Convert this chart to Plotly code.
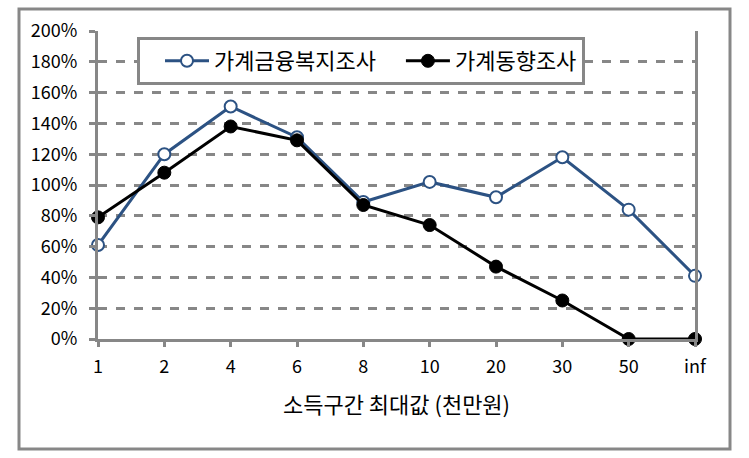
import plotly.graph_objects as go

categories = ["1", "2", "4", "6", "8", "10", "20", "30", "50", "inf"]
finance_welfare = [61, 120, 151, 131, 89, 102, 92, 118, 84, 41]
household_trend = [79, 108, 138, 129, 87, 74, 47, 25, 0, 0]
y_ticks = [0, 20, 40, 60, 80, 100, 120, 140, 160, 180, 200]
y_tick_labels = [f"{v}%" for v in y_ticks]
series_names = ["가계금융복지조사", "가계동향조사"]

xs = list(range(len(categories)))
GRAY = "#878787"
BLUE = "#2C5283"
FONT = "Noto Sans CJK KR"

fig = go.Figure()
fig.add_trace(go.Scatter(
    x=xs, y=finance_welfare, name=series_names[0], mode="lines+markers",
    line=dict(color=BLUE, width=3),
    marker=dict(symbol="circle", size=12, color="white", line=dict(color=BLUE, width=2)),
    cliponaxis=False,
))
fig.add_trace(go.Scatter(
    x=xs, y=household_trend, name=series_names[1], mode="lines+markers",
    line=dict(color="black", width=3),
    marker=dict(symbol="circle", size=13, color="black", line=dict(color="black", width=1)),
    cliponaxis=False,
))

W, H = 749, 458
L, R, T, B = 98, 695, 31, 339
fig.update_layout(
    width=W, height=H,
    margin=dict(l=L, r=W - R, t=T, b=H - B),
    paper_bgcolor="white", plot_bgcolor="white",
    font=dict(family=FONT, size=18, color="black"),
    showlegend=True,
    legend=dict(
        orientation="h", x=(137 - L) / (R - L), y=(B - 37) / (B - T),
        xanchor="left", yanchor="top",
        bgcolor="white", bordercolor=GRAY, borderwidth=3,
        font=dict(family=FONT, size=22, color="black"),
        itemwidth=44, indentation=20,
    ),
    xaxis=dict(
        range=[0, len(categories) - 1], tickmode="array", tickvals=xs, ticktext=categories,
        showgrid=False, zeroline=False, showline=True, linecolor=GRAY, linewidth=3,
        ticks="outside", ticklen=5, tickwidth=3, tickcolor=GRAY,
        tickfont=dict(family=FONT, size=18), ticklabelstandoff=4,
        title=dict(text="소득구간 최대값 (천만원)", font=dict(family=FONT, size=22), standoff=22),
    ),
    yaxis=dict(
        range=[0, 200], tickmode="array", tickvals=y_ticks, ticktext=y_tick_labels,
        showgrid=True, gridcolor=GRAY, gridwidth=3, griddash="dash",
        zeroline=False, showline=True, linecolor=GRAY, linewidth=3, mirror=True,
        ticks="outside", ticklen=6, tickwidth=3, tickcolor=GRAY,
        tickfont=dict(family=FONT, size=18), ticklabelstandoff=8,
    ),
)

# outer chart frame
def px_x(p):
    return (p - L) / (R - L)

def px_y(p):
    return (B - p) / (B - T)

fig.add_shape(type="rect", xref="paper", yref="paper",
              x0=px_x(19), x1=px_x(730), y0=px_y(449), y1=px_y(9),
              line=dict(color=GRAY, width=3), fillcolor="rgba(0,0,0,0)", layer="below")

fig.write_html("out.html")
